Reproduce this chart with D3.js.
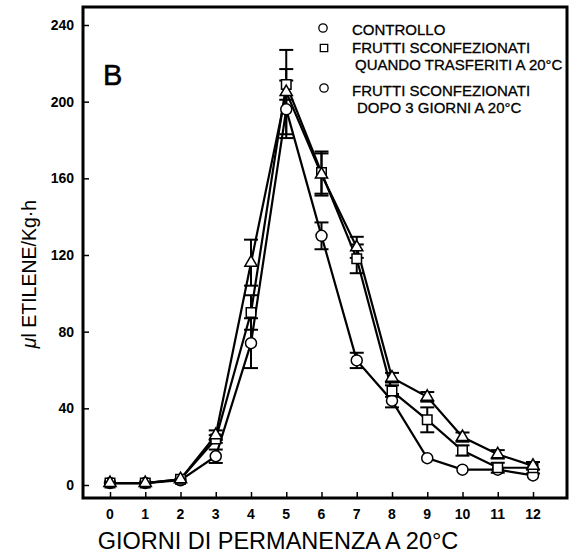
<!DOCTYPE html>
<html>
<head>
<meta charset="utf-8">
<script src="https://cdn.jsdelivr.net/npm/d3@7"></script>
<style>
  body { margin: 0; background: #fff; }
  text { font-family: "Liberation Sans", Arial, sans-serif; fill: #000; }
</style>
</head>
<body>
<div id="chart"></div>
<script>
// days of storage at 20°C
const days = [0, 1, 2, 3, 4, 5, 6, 7, 8, 9, 10, 11, 12];

// ul ethylene / kg h
const controllo    = [1, 1, 2.5, 15, 74, 196, 130, 65, 44, 14, 8, 8, 5];
const controlloErr = [0.5, 0.5, 0.5, 3.5, 13, 15, 7, 4, 3.5, 1.5, 1, 1, 1];
const quando       = [1, 1, 3, 24, 90, 209, 163, 118, 49, 34, 18, 9, 9];
const quandoErr    = [0.5, 0.5, 1, 2, 9, 8, 11, 7.5, 3, 6.5, 2.7, 2.6, 3];
const dopo         = [1, 1, 3, 26, 116, 205, 162, 124, 56, 46, 25, 16, 10];
const dopoErr      = [0.5, 0.5, 1, 2.5, 12, 22, 11, 5.5, 2.5, 2.5, 2.4, 2.2, 2];

const yTicks = [0, 40, 80, 120, 160, 200, 240];

const W = 575, H = 558;
const svg = d3.select('#chart').append('svg')
  .attr('width', W)
  .attr('height', H);

const x = d3.scaleLinear().domain([0, 12]).range([110, 533]);
const y = d3.scaleLinear().domain([0, 240]).range([485, 25]);

// frame box
const frame = { left: 83, top: 7, right: 567, bottom: 498 };

// y ticks (inside) + labels
svg.append('g')
  .attr('transform', `translate(${frame.left},0)`)
  .call(d3.axisRight(y).tickValues(yTicks).tickSize(6).tickFormat(''))
  .call(g => g.select('.domain').remove())
  .call(g => g.selectAll('line').attr('stroke', '#000').attr('stroke-width', 1.5));

svg.append('g').selectAll('text')
  .data(yTicks)
  .join('text')
  .attr('x', 74)
  .attr('y', d => y(d))
  .attr('dy', '0.35em')
  .attr('text-anchor', 'end')
  .attr('font-size', 14)
  .attr('font-weight', 'bold')
  .text(d => d);

// x ticks (up from bottom frame) + labels
svg.append('g')
  .attr('transform', `translate(0,${frame.bottom})`)
  .call(d3.axisTop(x).tickValues(days).tickSize(6).tickFormat(''))
  .call(g => g.select('.domain').remove())
  .call(g => g.selectAll('line').attr('stroke', '#000').attr('stroke-width', 1.5));

svg.append('g').selectAll('text')
  .data(days)
  .join('text')
  .attr('x', d => x(d))
  .attr('y', 519)
  .attr('text-anchor', 'middle')
  .attr('font-size', 14)
  .attr('font-weight', 'bold')
  .text(d => d);

// series
const series = [
  { name: 'controllo', vals: controllo, err: controlloErr, shape: 'circle' },
  { name: 'quando', vals: quando, err: quandoErr, shape: 'square' },
  { name: 'dopo', vals: dopo, err: dopoErr, shape: 'triangle' }
];

const line = d3.line()
  .x(d => x(d.day))
  .y(d => y(d.v));

series.forEach(s => {
  s.points = days.map((d, i) => ({ day: d, v: s.vals[i], e: s.err[i] }));
  svg.append('path')
    .datum(s.points)
    .attr('d', line)
    .attr('fill', 'none')
    .attr('stroke', '#000')
    .attr('stroke-width', 2.2);
});

// error bars
series.forEach(s => {
  const g = svg.append('g').attr('stroke', '#000').attr('stroke-width', 2);
  s.points.filter(p => p.e >= 2).forEach(p => {
    const cx = x(p.day);
    g.append('line').attr('x1', cx).attr('x2', cx).attr('y1', y(p.v + p.e)).attr('y2', y(p.v - p.e));
    g.append('line').attr('x1', cx - 7).attr('x2', cx + 7).attr('y1', y(p.v + p.e)).attr('y2', y(p.v + p.e));
    g.append('line').attr('x1', cx - 7).attr('x2', cx + 7).attr('y1', y(p.v - p.e)).attr('y2', y(p.v - p.e));
  });
});

const symbolFor = {
  circle: d3.symbol().type(d3.symbolCircle).size(95),
  square: d3.symbol().type(d3.symbolSquare).size(90),
  triangle: d3.symbol().type(d3.symbolTriangle).size(65)
};

series.forEach(s => {
  svg.append('g').selectAll('path')
    .data(s.points)
    .join('path')
    .attr('transform', d => `translate(${x(d.day)},${y(d.v)})`)
    .attr('d', symbolFor[s.shape])
    .attr('fill', '#fff')
    .attr('stroke', '#000')
    .attr('stroke-width', 1.5);
});

// legend
const legendMarks = [
  { shape: 'circle', x: 323, y: 28 },
  { shape: 'square', x: 324, y: 48 },
  { shape: 'circle', x: 324, y: 88 }
];
svg.append('g').selectAll('path')
  .data(legendMarks)
  .join('path')
  .attr('transform', d => `translate(${d.x},${d.y})`)
  .attr('d', d => d3.symbol().type(d.shape === 'circle' ? d3.symbolCircle : d3.symbolSquare).size(55)())
  .attr('fill', '#fff')
  .attr('stroke', '#000')
  .attr('stroke-width', 1.3);

const legendLines = [
  { t: 'CONTROLLO', x: 352, y: 30 },
  { t: 'FRUTTI SCONFEZIONATI', x: 352, y: 48 },
  { t: 'QUANDO TRASFERITI A 20°C', x: 355, y: 65 },
  { t: 'FRUTTI SCONFEZIONATI', x: 352, y: 91 },
  { t: 'DOPO 3 GIORNI A 20°C', x: 357, y: 108 }
];
svg.append('g').selectAll('text')
  .data(legendLines)
  .join('text')
  .attr('x', d => d.x)
  .attr('y', d => d.y)
  .attr('dy', '0.35em')
  .attr('font-size', 15)
  .attr('stroke', '#000')
  .attr('stroke-width', 0.3)
  .text(d => d.t);

// panel letter
svg.append('text')
  .attr('x', 103)
  .attr('y', 85)
  .attr('font-size', 29)
  .attr('stroke', '#000')
  .attr('stroke-width', 0.5)
  .text('B');

// frame on top
svg.append('rect')
  .attr('x', frame.left)
  .attr('y', frame.top)
  .attr('width', frame.right - frame.left)
  .attr('height', frame.bottom - frame.top)
  .attr('fill', 'none')
  .attr('stroke', '#000')
  .attr('stroke-width', 3);

// axis titles
svg.append('text')
  .attr('x', 278)
  .attr('y', 549)
  .attr('text-anchor', 'middle')
  .attr('font-size', 23.5)
  .text('GIORNI DI PERMANENZA A 20°C');

const yt = svg.append('text')
  .attr('transform', 'translate(36,274) rotate(-90)')
  .attr('text-anchor', 'middle')
  .attr('font-size', 19.5);
yt.append('tspan').attr('font-style', 'italic').text('μ');
yt.append('tspan').text('l ETILENE/Kg·h');
</script>
</body>
</html>
